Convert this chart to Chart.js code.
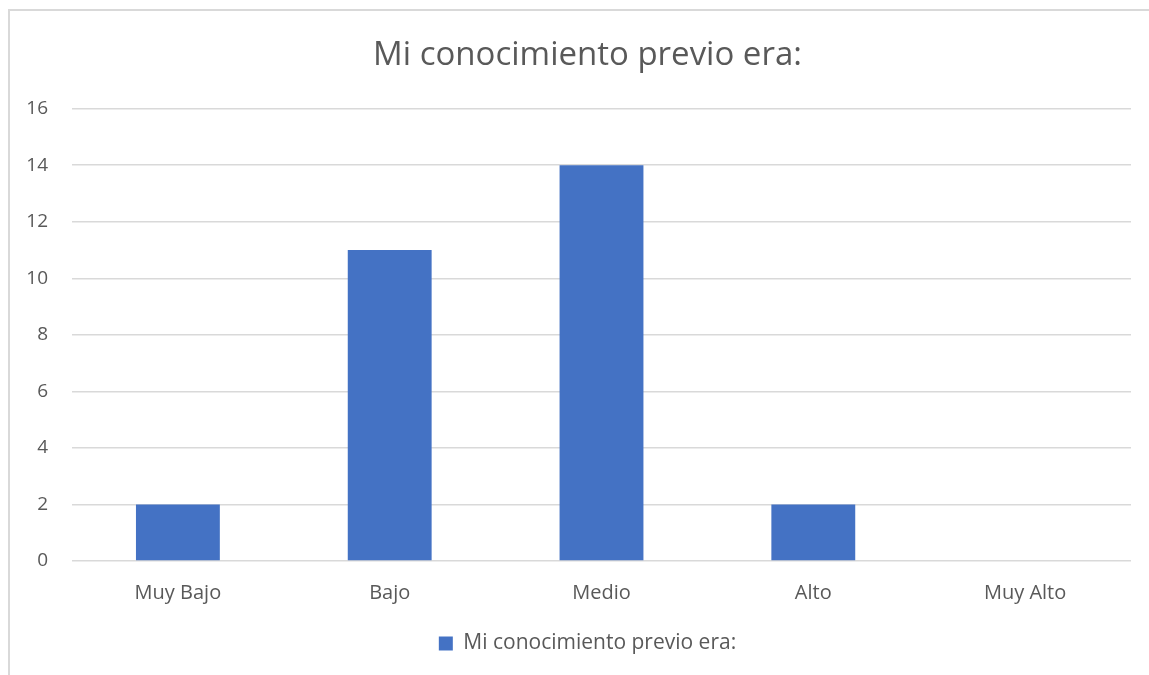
<html>
<head>
<meta charset="utf-8">
<title>Mi conocimiento previo era</title>
<script src="https://cdn.jsdelivr.net/npm/chart.js@4/dist/chart.umd.min.js"></script>
<style>
body {
margin: 0;
overflow: hidden;
background: white;
}
.frame {
position: absolute;
left: 8px;
top: 9px;
width: 1200px;
height: 720px;
border: 2px solid #d9d9d9;
}
.wrap {
position: absolute;
left: 0;
top: 0;
width: 1149px;
height: 675px;
}
</style>
</head>
<body>
<div class="frame"></div>
<div class="wrap">
 <canvas id="chart"></canvas>
</div>
<script>
// data
const categories = ['Muy Bajo', 'Bajo', 'Medio', 'Alto', 'Muy Alto'];
const counts = [2, 11, 14, 2, 0];
const seriesName = 'Mi conocimiento previo era:';
const titleText = 'Mi conocimiento previo era:';
const yTicks = [0, 2, 4, 6, 8, 10, 12, 14, 16];

const grey = '#595959';
const fontName = '"Open Sans", Lato, sans-serif';

// title and legend sit a bit right of the canvas centre in the original
const centreShift = {
    id: 'centreShift',
    afterLayout(chart) {
        const shift = 22;
        [chart.titleBlock, chart.legend].forEach(box => {
            if (box) {
                box.left += shift;
                box.right += shift;
            }
        });
    }
};

const ctx = document.getElementById('chart').getContext('2d');
new Chart(ctx, {
    type: 'bar',
    data: {
        labels: categories,
        datasets: [{
            label: seriesName,
            data: counts,
            backgroundColor: '#4472c4',
            categoryPercentage: 1,
            barPercentage: 0.396
        }]
    },
    options: {
        responsive: true,
        maintainAspectRatio: false,
        animation: false,
        layout: {
            padding: { left: 0, right: 18, top: 0, bottom: 11 }
        },
        plugins: {
            title: {
                display: true,
                text: titleText,
                color: grey,
                font: { family: fontName, size: 33, weight: 'normal' },
                padding: { top: 36, bottom: 33 }
            },
            legend: {
                position: 'bottom',
                labels: {
                    color: grey,
                    font: { family: fontName, size: 21 },
                    boxWidth: 14,
                    boxHeight: 14,
                    padding: 8
                }
            },
            tooltip: { enabled: false }
        },
        scales: {
            x: {
                grid: { display: false, drawTicks: false },
                border: { display: false },
                ticks: {
                    color: grey,
                    font: { family: fontName, size: 20 },
                    padding: 20
                }
            },
            y: {
                min: 0,
                max: 16,
                afterFit: function (scale) { scale.width = 72; },
                afterBuildTicks: function (scale) {
                    scale.ticks = yTicks.map(v => ({ value: v }));
                },
                grid: { color: '#d9d9d9', lineWidth: 1.5, drawTicks: false },
                border: { display: false },
                ticks: {
                    color: grey,
                    font: { family: fontName, size: 19 },
                    padding: 24
                }
            }
        }
    },
    plugins: [centreShift]
});
</script>
</body>
</html>
